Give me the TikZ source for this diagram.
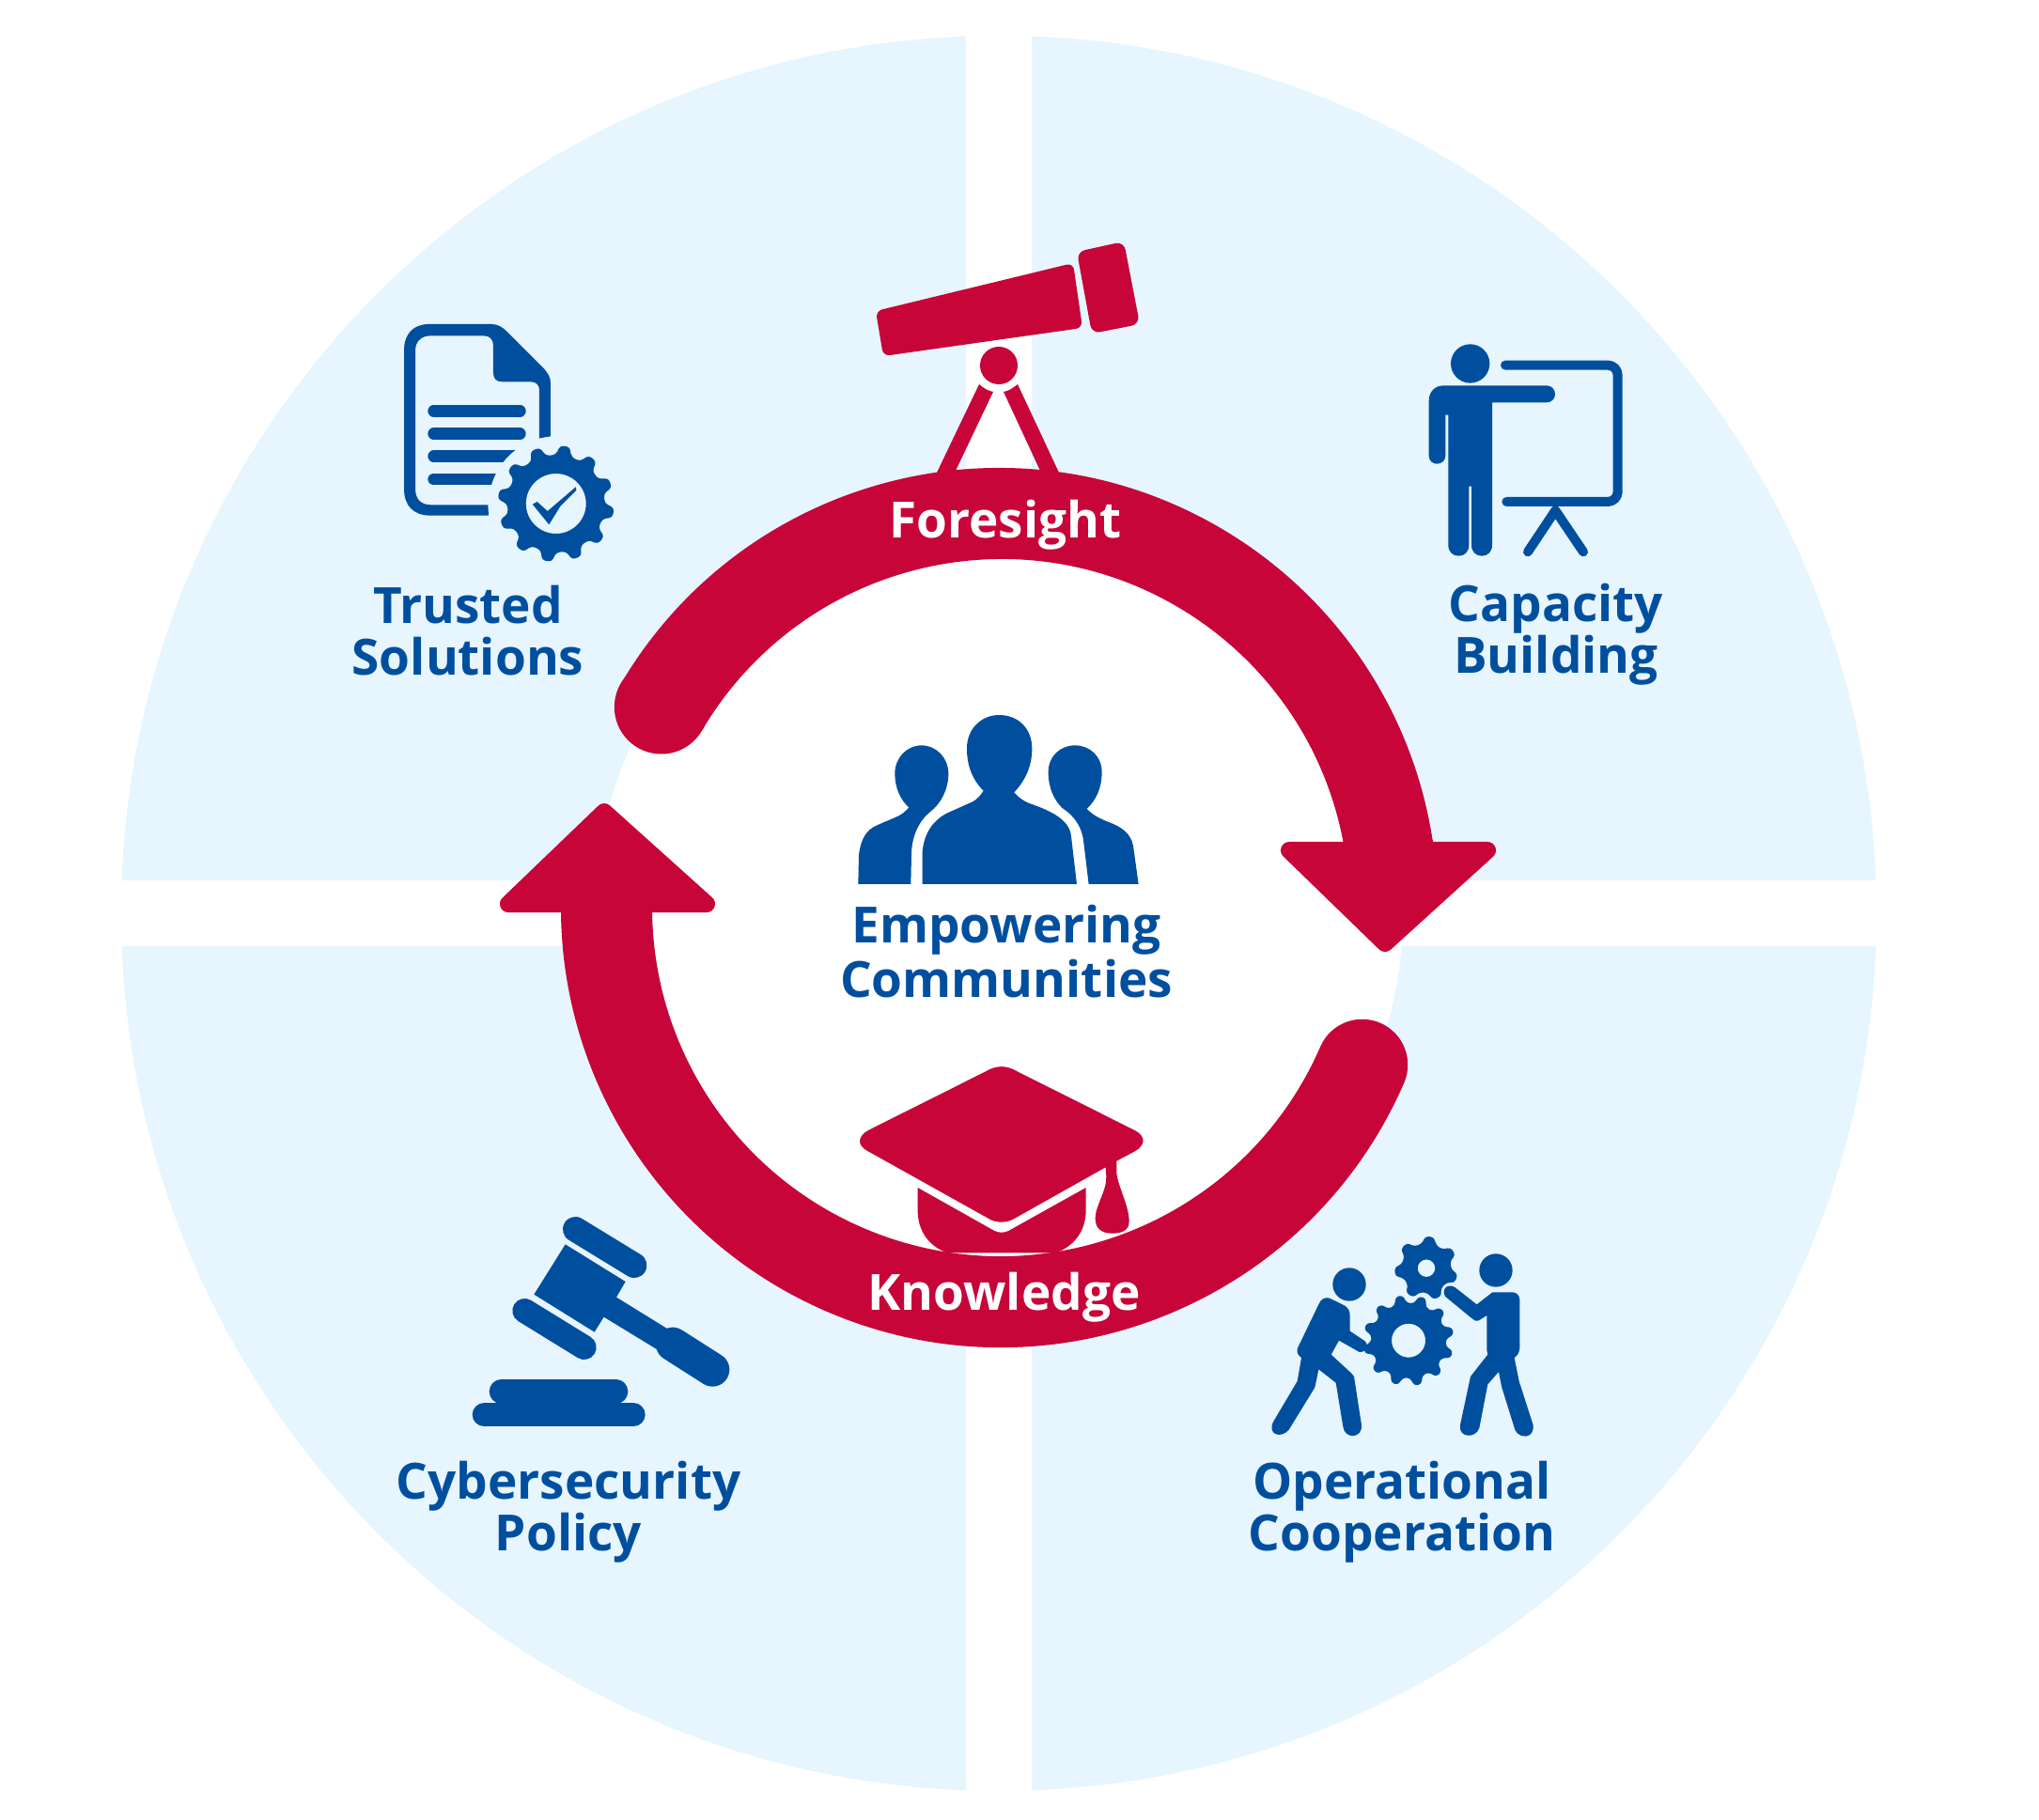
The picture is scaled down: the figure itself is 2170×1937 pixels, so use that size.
\documentclass[tikz,border=0pt]{standalone}
\usepackage{fontspec}
\setmainfont{Open Sans}
\tikzset{
  iconfill/.style={fill=cb-blue},
  redfill/.style={fill=cb-red},
  ringarc/.style={draw=cb-red, line width=0.97cm, line cap=round},
  arrowhead/.style={fill=cb-red, draw=cb-red, line width=0.18cm, line join=round},
  iconline/.style={draw=cb-blue, line cap=round, line join=round},
  labeltext/.style={font=\bfseries\fontsize{15.1}{15.7}\selectfont, text=cb-blue, align=center, inner sep=0pt},
  ringtext/.style={font=\bfseries\fontsize{15.1}{15.7}\selectfont, text=white, inner sep=0pt}
}
\definecolor{cb-blue}{HTML}{004F9E}
\definecolor{cb-red}{HTML}{C70538}
\definecolor{cb-pale}{HTML}{E6F5FE}
\begin{document}
\begin{tikzpicture}[x=0.01cm, y=0.01cm, yscale=-1]
    \def\gear#1#2#3#4#5#6#7{
      \begin{scope}[shift={(#1,#2)}]
        \pgfmathsetmacro\gearstep{360/#6}
        \fill[iconfill, even odd rule, rounded corners=1pt]
          ({#7+0.31*\gearstep}:#4)
          \foreach \k [evaluate=\k as \a using #7+\k*\gearstep] in {1,...,#6} {
            -- ({\a-0.31*\gearstep}:#4) -- ({\a-0.16*\gearstep}:#3) -- ({\a+0.16*\gearstep}:#3) -- ({\a+0.31*\gearstep}:#4)
          } -- cycle (0,0) circle (#5);
      \end{scope}
    }
    \useasboundingbox (0,0) rectangle (2170,1937);

    \fill[cb-pale] (1063,972) circle (934);
    \fill[white] (1028,0) rectangle (1098,1937);
    \fill[white] (100,937) rectangle (2050,1007);
    \fill[white] (1063,972) circle (430);

    \fill[redfill] (1063,965) ++(210.5:467) arc[start angle=210.5, end angle=351, radius=467]
      -- (1527,905) -- (1431,905) -- (1429.5,896) arc[start angle=349.25, end angle=210.5, radius=370] -- cycle;
    \fill[redfill] (703.8,752.5) circle (50);
    \draw[ringarc] (1065,966) ++(23.5:419.5) arc[start angle=23.5, end angle=180, radius=419.5];
    \filldraw[arrowhead] (1372,905) -- (1583,905) -- (1474,1004) -- cycle;
    \filldraw[arrowhead] (541,962) -- (752,962) -- (643,864) -- cycle;

    % telescope
    \begin{scope}
      \fill[redfill, rounded corners=2pt] (932,331) -- (1142,280) -- (1152,349) -- (940,379) -- cycle;
      \fill[redfill, rounded corners=2.5pt] (1146,268) -- (1196,257) -- (1213,345) -- (1162,355) -- cycle;
      \fill[redfill] (1063,389) circle (20);
      \fill[redfill] (1042,409) .. controls (1047,413) and (1051,416) .. (1057,417) -- (1017,501) -- (1016,510) -- (990,510) -- (997,503) -- cycle;
      \fill[redfill] (1083,409) .. controls (1078,413) and (1074,416) .. (1068,417) -- (1107,501) -- (1108,510) -- (1135,510) -- (1127,503) -- cycle;
    \end{scope}

    % document and gear
    \begin{scope}[shift={(400,320)}, scale=0.3333]
      \fill[iconfill] (558,433) -- (558,265) .. controls (558,245) and (550,232) .. (535,215) -- (420,100)
        .. controls (405,85) and (390,75) .. (370,75) -- (170,75) .. controls (120,75) and (90,105) .. (90,160)
        -- (90,600) .. controls (90,655) and (120,686) .. (175,686) -- (360,686) -- (358,652) -- (175,652)
        .. controls (145,652) and (126,635) .. (126,600) -- (126,160) .. controls (126,130) and (145,112) .. (175,112)
        -- (345,112) .. controls (365,112) and (375,125) .. (375,145) -- (375,230) .. controls (375,250) and (385,259) .. (405,259)
        -- (495,259) .. controls (512,259) and (522,270) .. (522,285) -- (522,440) -- cycle;
      \foreach \y in {352,425,497,570} {
        \draw[iconline, line width=0.127cm] (185,\y) -- (460,\y);
      }
      \fill[cb-pale] (575,648) circle (214);
    \end{scope}
    \gear{591.7}{536}{62}{52}{32}{12}{-81}
    \fill[iconfill] (566.7,536.7) -- (571.7,534) -- (582.7,544) -- (612.7,518.3) -- (613.3,521.7) -- (596.7,538.3) -- (584.3,558.3) -- cycle;

    % presenter and board
    \begin{scope}[shift={(1500,350)}, scale=0.3333]
      \fill[iconfill] (194,111) circle (62);
      \fill[iconfill] (110,181) -- (438,181) .. controls (455,181) and (465,195) .. (465,208) .. controls (465,222) and (455,235) .. (438,235)
        -- (264,235) -- (264,690) .. controls (264,712) and (250,725) .. (231,725) .. controls (212,725) and (198,712) .. (198,690)
        -- (198,503) -- (190,503) -- (190,690) .. controls (190,712) and (176,725) .. (157,725) .. controls (138,725) and (124,712) .. (124,690)
        -- (124,275) -- (115,275) -- (115,405) .. controls (115,420) and (103,431) .. (88,431) .. controls (73,431) and (62,420) .. (62,405)
        -- (62,230) .. controls (62,200) and (82,181) .. (110,181) -- cycle;
      \draw[iconline, line width=0.1cm, rounded corners=3pt] (306,116) -- (665,116) -- (665,552) -- (310,552);
      \draw[iconline, line width=0.1cm] (378,712) -- (466,580) -- (555,712);
    \end{scope}

    % three people
    \begin{scope}[shift={(890,740)}, scale=0.3333]
      \fill[iconfill] (275,603) -- (275,500) .. controls (280,440) and (310,400) .. (350,378) -- (435,340)
        .. controls (450,332) and (460,320) .. (470,305) .. controls (435,270) and (417,225) .. (417,170)
        .. controls (417,105) and (465,63) .. (520,63) .. controls (580,63) and (625,105) .. (625,170)
        .. controls (625,225) and (605,270) .. (568,310) .. controls (580,325) and (600,340) .. (625,348)
        .. controls (680,368) and (745,395) .. (750,450) -- (768,603) -- cycle;
      \fill[iconfill] (70,603) -- (72,510) .. controls (78,460) and (95,430) .. (130,415) -- (195,387)
        .. controls (210,380) and (222,370) .. (232,358) .. controls (205,335) and (187,295) .. (187,250)
        .. controls (187,200) and (225,160) .. (272,160) .. controls (320,160) and (358,200) .. (358,250)
        .. controls (358,300) and (335,345) .. (300,372) .. controls (265,400) and (240,450) .. (240,510) -- (238,603) -- cycle;
      \fill[iconfill] (806,603) -- (790,470) .. controls (785,420) and (760,385) .. (722,360)
        .. controls (695,335) and (677,295) .. (677,245) .. controls (677,195) and (715,160) .. (762,160)
        .. controls (810,160) and (848,195) .. (848,245) .. controls (848,295) and (830,335) .. (800,362)
        .. controls (815,380) and (840,393) .. (870,405) .. controls (910,420) and (940,440) .. (948,480) -- (965,603) -- cycle;
    \end{scope}

    % cap
    \begin{scope}[shift={(900,1120)}, scale=0.3333]
      \fill[redfill] (445,62) .. controls (482,40) and (513,40) .. (550,62) -- (925,250)
        .. controls (958,268) and (958,295) .. (925,315) -- (865,347) -- (865,385)
        .. controls (870,430) and (905,490) .. (905,540) .. controls (905,570) and (880,578) .. (850,578)
        .. controls (815,578) and (797,560) .. (797,530) .. controls (797,490) and (835,440) .. (832,395)
        -- (830,367) -- (540,530) .. controls (515,546) and (480,546) .. (455,530) -- (70,315)
        .. controls (37,298) and (37,270) .. (70,250) -- cycle;
      \fill[redfill] (230,432) -- (475,570) .. controls (490,577) and (505,577) .. (520,570) -- (767,432)
        -- (767,510) .. controls (765,570) and (730,620) .. (670,640) -- (325,640)
        .. controls (265,620) and (232,570) .. (230,510) -- cycle;
    \end{scope}

    % gavel
    \begin{scope}[shift={(490,1280)}, scale=0.3333]
      \draw[iconline, line width=0.267cm] (367,85) -- (555,200);
      \draw[iconline, line width=0.26cm] (205,345) -- (395,462);
      \fill[iconfill] (335,133) -- (527,252) -- (498,302) -- (660,402) -- (630,470) -- (458,365) -- (428,413) -- (235,293) -- cycle;
      \draw[iconline, line width=0.36cm] (678,452) -- (805,533);
      \draw[iconline, line width=0.253cm] (130,603) -- (497,603);
      \draw[iconline, line width=0.253cm] (76,677) -- (552,677);
    \end{scope}

    % two workers and gears
    \gear{1499}{1426.7}{48.5}{40}{18}{12}{-72}
    \gear{1518}{1349.7}{34}{26.5}{9.3}{7}{-84}
    \begin{scope}[shift={(1340,1300)}, scale=0.3333]
      \fill[iconfill] (288,201) circle (53);
      \fill[iconfill] (756,156) circle (53);
      \fill[iconfill] (190,265) .. controls (197,248) and (210,240) .. (225,245) -- (270,267) .. controls (283,273) and (290,285) .. (290,300)
        -- (290,350) -- (335,380) .. controls (352,392) and (345,418) .. (320,417) -- (255,380) -- (230,425) -- (295,485) -- (303,495)
        -- (327,650) .. controls (330,695) and (272,695) .. (268,655) -- (245,515) -- (190,472) -- (178,530) -- (95,665)
        .. controls (70,695) and (25,680) .. (45,640) -- (122,510) -- (135,435) .. controls (120,425) and (118,410) .. (125,400) -- cycle;
      \fill[iconfill] (745,226) -- (810,226) .. controls (822,226) and (832,237) .. (832,250) -- (832,405) .. controls (830,420) and (825,428) .. (815,435)
        -- (830,510) -- (875,650) .. controls (880,695) and (830,695) .. (817,665) -- (775,530) -- (765,480) -- (730,520) -- (703,660)
        .. controls (690,695) and (635,690) .. (642,650) -- (675,495) -- (730,425) -- (727,410) -- (727,300) -- (700,317)
        .. controls (695,318) and (685,317) .. (680,310) -- (595,240) .. controls (580,220) and (600,195) .. (625,210) -- (695,265) -- cycle;
    \end{scope}

    \node[ringtext] (foresight) at (1070,559) {Foresight};
    \node[ringtext] (knowledge) at (1068.5,1381) {Knowledge};
    \node[labeltext] (trusted) at (498,671) {Trusted\\Solutions};
    \node[labeltext] (capacity) at (1656,675) {Capacity\\Building};
    \node[labeltext] (empowering) at (1071,1013) {Empowering\\[0.8pt]Communities};
    \node[labeltext] (operational) at (1492,1609) {Operational\\Cooperation};
    \node[labeltext] (cybersecurity) at (605,1609) {Cybersecurity\\Policy};
\end{tikzpicture}
\end{document}
